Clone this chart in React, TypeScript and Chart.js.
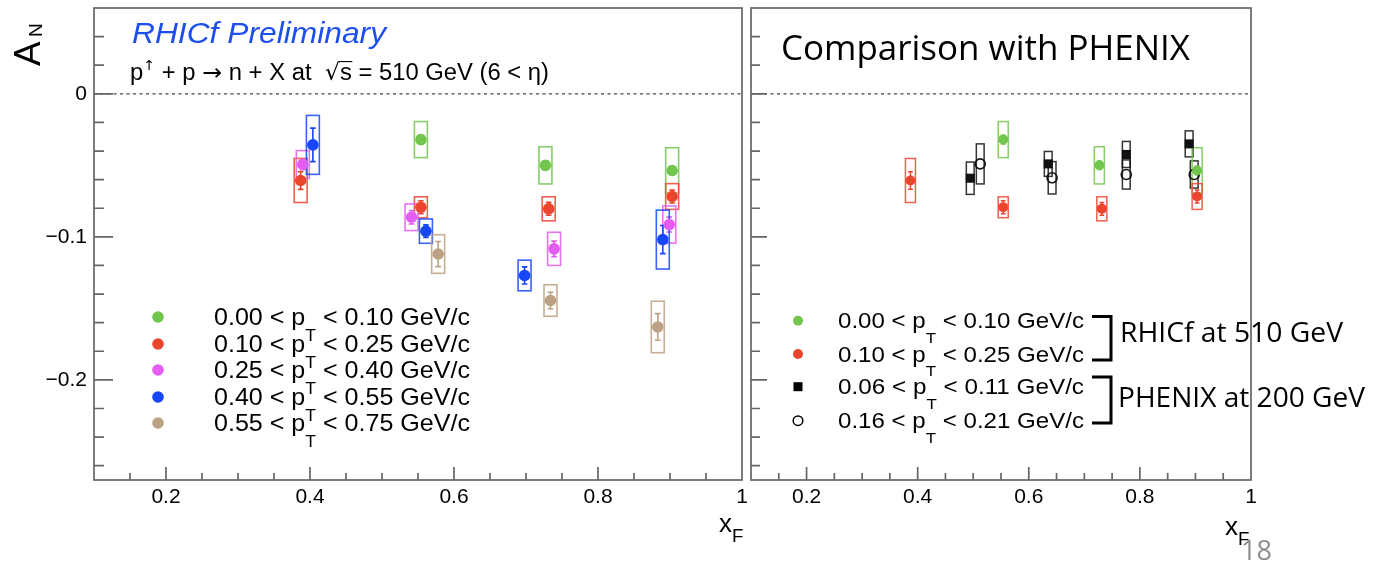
import React, { useEffect, useRef } from "react";
import { Chart, registerables } from "chart.js";

Chart.register(...registerables);

const W = 1380;
const H = 562;

// Axis ranges and labelled ticks
const X_MIN = 0.1;
const X_MAX = 1.0;
const Y_MIN = -0.27;
const Y_MAX = 0.06;
const xTickValues = [0.2, 0.4, 0.6, 0.8, 1];
const yTickValues = [-0.2, -0.1, 0];

// RHICf neutron A_N vs x_F, sqrt(s) = 510 GeV, one block per pT bin
const xPt1 = [0.554, 0.727, 0.903];
const aPt1 = [-0.032, -0.05, -0.0536];
const statPt1 = [0.003, 0.003, 0.003];
const systPt1 = [0.0126, 0.013, 0.0159];

const xPt2 = [0.387, 0.554, 0.7315, 0.903];
const aPt2 = [-0.0606, -0.0793, -0.0804, -0.0718];
const statPt2 = [0.0062, 0.0045, 0.0045, 0.0045];
const systPt2 = [0.0154, 0.0073, 0.0084, 0.009];

const xPt3 = [0.39, 0.541, 0.739, 0.899];
const aPt3 = [-0.0494, -0.0863, -0.1084, -0.0914];
const statPt3 = [0.0035, 0.0047, 0.0054, 0.0052];
const systPt3 = [0.0097, 0.0093, 0.0116, 0.013];

const xPt4 = [0.404, 0.561, 0.698, 0.89];
const aPt4 = [-0.0357, -0.096, -0.127, -0.1019];
const statPt4 = [0.0117, 0.0044, 0.006, 0.0098];
const systPt4 = [0.0206, 0.0085, 0.0107, 0.0206];

const xPt5 = [0.578, 0.734, 0.883];
const aPt5 = [-0.112, -0.1445, -0.163];
const statPt5 = [0.0088, 0.0058, 0.0093];
const systPt5 = [0.0135, 0.011, 0.018];

// PHENIX neutron A_N, sqrt(s) = 200 GeV
const xPhxLow = [0.4946, 0.635, 0.7755, 0.8886];
const aPhxLow = [-0.059, -0.049, -0.0424, -0.035];
const systPhxLow = [0.0113, 0.0087, 0.0091, 0.0091];

const xPhxHigh = [0.5126, 0.642, 0.7755, 0.8978];
const aPhxHigh = [-0.049, -0.0587, -0.0564, -0.0564];
const systPhxHigh = [0.014, 0.0113, 0.0102, 0.0095];

// pT bin edges for the legends
const ptEdges = ["0.00", "0.10", "0.25", "0.40", "0.55", "0.75"];
const phenixPtLow = ["0.06", "0.16"];
const phenixPtHigh = ["0.11", "0.21"];
const groupLabels = ["RHICf at 510 GeV", "PHENIX at 200 GeV"];

const rhicfColors = ["#72c64e", "#ec452e", "#e45cf2", "#1646f6", "#bda184"];
const FRAME = "#666666";

type Series = {
  x: number[];
  a: number[];
  stat: number[] | null;
  syst: number[];
  color: string;
  half: number;
};

const rhicf: Series[] = [
  { x: xPt1, a: aPt1, stat: statPt1, syst: systPt1 },
  { x: xPt2, a: aPt2, stat: statPt2, syst: systPt2 },
  { x: xPt3, a: aPt3, stat: statPt3, syst: systPt3 },
  { x: xPt4, a: aPt4, stat: statPt4, syst: systPt4 },
  { x: xPt5, a: aPt5, stat: statPt5, syst: systPt5 },
].map((s, i) => ({ ...s, color: rhicfColors[i], half: 0.009 }));

const phenix: Series[] = [
  { x: xPhxLow, a: aPhxLow, stat: null, syst: systPhxLow, color: "#111111", half: 0.007 },
  { x: xPhxHigh, a: aPhxHigh, stat: null, syst: systPhxHigh, color: "#111111", half: 0.007 },
];

type Seg = { t: string; k?: "sub" | "sup"; over?: boolean; fam?: string };
type TextOpt = {
  size: number;
  family: string;
  style?: string;
  color?: string;
  width?: number;
  subScale?: number;
  subDrop?: number;
  supRise?: number;
};

const fontOf = (o: TextOpt, size: number, fam?: string) =>
  `${o.style || "normal"} normal ${size}px ${fam || o.family}`;

// Draws a run of text pieces (with sub/superscripts), optionally stretched to a given width
function drawRich(ctx: CanvasRenderingContext2D, segs: Seg[], x: number, y: number, o: TextOpt) {
  const subScale = o.subScale ?? 0.7;
  const parts = segs.map((s) => {
    const sz = s.k ? o.size * subScale : o.size;
    ctx.font = fontOf(o, sz, s.fam);
    return { ...s, sz, w: ctx.measureText(s.t).width };
  });
  const natural = parts.reduce((acc, p) => acc + p.w, 0);
  const sx = o.width ? o.width / natural : 1;
  ctx.save();
  ctx.translate(x, y);
  ctx.scale(sx, 1);
  ctx.fillStyle = o.color || "#000";
  ctx.strokeStyle = o.color || "#000";
  ctx.textAlign = "left";
  ctx.textBaseline = "alphabetic";
  let cx = 0;
  for (const p of parts) {
    ctx.font = fontOf(o, p.sz, p.fam);
    const dy =
      p.k === "sub" ? o.size * (o.subDrop ?? 0.3) : p.k === "sup" ? -o.size * (o.supRise ?? 0.42) : 0;
    ctx.fillText(p.t, cx, dy);
    if (p.over) {
      ctx.beginPath();
      ctx.lineWidth = 1.1;
      ctx.moveTo(cx - 1, dy - o.size * 0.8);
      ctx.lineTo(cx + p.w + 0.5, dy - o.size * 0.8);
      ctx.stroke();
    }
    cx += p.w;
  }
  ctx.restore();
}

function ptSegs(lo: string, hi: string): Seg[] {
  return [{ t: `${lo} < p` }, { t: "T", k: "sub" }, { t: ` < ${hi} GeV/c` }];
}

// Systematic boxes and statistical bars, placed through the chart scales
function drawErrors(chart: Chart, list: Series[], lw: number, capHalf: number) {
  const { ctx } = chart;
  const xs = chart.scales.x;
  const ys = chart.scales.y;
  for (const s of list) {
    ctx.save();
    ctx.globalAlpha = 0.85;
    ctx.strokeStyle = s.color;
    ctx.lineWidth = lw;
    s.x.forEach((xv, i) => {
      const l = xs.getPixelForValue(xv - s.half);
      const r = xs.getPixelForValue(xv + s.half);
      const t = ys.getPixelForValue(s.a[i] + s.syst[i]);
      const b = ys.getPixelForValue(s.a[i] - s.syst[i]);
      ctx.strokeRect(l, t, r - l, b - t);
    });
    ctx.globalAlpha = 1;
    if (s.stat) {
      s.x.forEach((xv, i) => {
        const px = xs.getPixelForValue(xv);
        const t = ys.getPixelForValue(s.a[i] + s.stat![i]);
        const b = ys.getPixelForValue(s.a[i] - s.stat![i]);
        ctx.beginPath();
        ctx.moveTo(px, t);
        ctx.lineTo(px, b);
        ctx.moveTo(px - capHalf, t);
        ctx.lineTo(px + capHalf, t);
        ctx.moveTo(px - capHalf, b);
        ctx.lineTo(px + capHalf, b);
        ctx.stroke();
      });
    }
    ctx.restore();
  }
}

// Frame with inward ROOT-style tick marks
function drawFrame(chart: Chart, yMajorLen: number, yMinorLen: number) {
  const { ctx, chartArea: ca } = chart;
  const xs = chart.scales.x;
  const ys = chart.scales.y;
  ctx.save();
  ctx.strokeStyle = FRAME;
  ctx.lineWidth = 1.7;
  ctx.strokeRect(ca.left, ca.top, ca.right - ca.left, ca.bottom - ca.top);
  ctx.beginPath();
  for (let k = 3; k <= 19; k++) {
    const px = xs.getPixelForValue(k * 0.05);
    const len = k % 4 === 0 ? 13 : 7;
    ctx.moveTo(px, ca.bottom);
    ctx.lineTo(px, ca.bottom - len);
  }
  for (let k = -13; k <= 2; k++) {
    const py = ys.getPixelForValue(k * 0.02);
    const len = k % 5 === 0 ? yMajorLen : yMinorLen;
    ctx.moveTo(ca.left, py);
    ctx.lineTo(ca.left + len, py);
  }
  ctx.stroke();
  ctx.restore();
}

function dot(ctx: CanvasRenderingContext2D, x: number, y: number, r: number, color: string) {
  ctx.beginPath();
  ctx.arc(x, y, r, 0, Math.PI * 2);
  ctx.fillStyle = color;
  ctx.fill();
}

function bracket(ctx: CanvasRenderingContext2D, x0: number, x1: number, y0: number, y1: number) {
  ctx.save();
  ctx.beginPath();
  ctx.moveTo(x0, y0);
  ctx.lineTo(x1, y0);
  ctx.lineTo(x1, y1);
  ctx.lineTo(x0, y1);
  ctx.lineWidth = 3;
  ctx.strokeStyle = "#000";
  ctx.lineJoin = "miter";
  ctx.stroke();
  ctx.restore();
}

const ROOT_FONT = "'Liberation Sans', Arial, sans-serif";
const SYMBOL_FONT = "'DejaVu Sans', sans-serif";
const SLIDE_FONT = "'Open Sans', 'Noto Sans', sans-serif";

function scalesFor(showYLabels: boolean) {
  return {
    x: {
      type: "linear",
      min: X_MIN,
      max: X_MAX,
      grid: { display: false, drawTicks: false },
      border: { display: false },
      afterBuildTicks: (s: any) => {
        s.ticks = xTickValues.map((v) => ({ value: v }));
      },
      afterFit: (s: any) => {
        s.height = 40;
        s.paddingLeft = 0;
        s.paddingRight = 0;
      },
      ticks: {
        padding: 5,
        autoSkip: false,
        maxRotation: 0,
        color: "#000",
        font: { family: ROOT_FONT, size: 21 },
        callback: (v: any) => (Number(v) === 1 ? "1" : Number(v).toFixed(1)),
      },
    },
    y: {
      type: "linear",
      min: Y_MIN,
      max: Y_MAX,
      grid: { display: false, drawTicks: false },
      border: { display: false },
      afterBuildTicks: (s: any) => {
        s.ticks = yTickValues.map((v) => ({ value: v }));
      },
      afterFit: (s: any) => {
        s.width = 50;
        s.paddingTop = 0;
        s.paddingBottom = 0;
      },
      ticks: {
        display: showYLabels,
        padding: 7,
        color: "#000",
        font: { family: ROOT_FONT, size: 21 },
        callback: (v: any) => {
          const n = Number(v);
          return Math.abs(n) < 1e-9 ? "0" : "\u2212" + Math.abs(n).toFixed(1);
        },
      },
    },
  };
}

function zeroLine() {
  return {
    type: "line",
    data: [
      { x: X_MIN, y: 0 },
      { x: X_MAX, y: 0 },
    ],
    showLine: true,
    borderColor: "#444444",
    borderWidth: 1.3,
    borderDash: [3, 3.5],
    pointRadius: 0,
  };
}

function pointSet(s: Series, r: number, style = "circle", fill = true) {
  return {
    type: "scatter",
    data: s.x.map((xv, i) => ({ x: xv, y: s.a[i] })),
    pointStyle: style,
    pointRadius: r,
    pointBackgroundColor: fill ? s.color : "rgba(0,0,0,0)",
    pointBorderColor: s.color,
    pointBorderWidth: fill ? 0 : 1.6,
    showLine: false,
  };
}

function baseOptions(padLeft: number, padRight: number, showY: boolean) {
  return {
    responsive: false,
    maintainAspectRatio: false,
    devicePixelRatio: 1,
    animation: false,
    events: [],
    layout: { padding: { left: padLeft, right: padRight, top: 8, bottom: 42 } },
    plugins: { legend: { display: false }, tooltip: { enabled: false } },
    scales: scalesFor(showY),
  };
}

function leftConfig(): any {
  const plugin = {
    id: "rhicfPanel",
    beforeDatasetsDraw(chart: Chart) {
      drawErrors(chart, rhicf, 1.6, 2.8);
    },
    afterDatasetsDraw(chart: Chart) {
      const ctx = chart.ctx;
      drawFrame(chart, 19, 10);
      drawRich(ctx, [{ t: "RHICf Preliminary" }], 132, 43, {
        size: 29,
        family: ROOT_FONT,
        style: "italic",
        color: "#1c4ef0",
        width: 254,
      });
      drawRich(
        ctx,
        [
          { t: "p" },
          { t: "\u2191", k: "sup", fam: SYMBOL_FONT },
          { t: " + p " },
          { t: "\u2192", fam: SYMBOL_FONT },
          { t: " n + X at  " },
          { t: "\u221A", fam: SYMBOL_FONT },
          { t: "s", over: true },
          { t: " = 510 GeV (6 < \u03B7)" },
        ],
        130,
        80,
        { size: 23, family: ROOT_FONT, width: 419, supRise: 0.42, subScale: 0.6 }
      );
      const rows = [317, 344, 370, 397, 423];
      rows.forEach((ry, i) => {
        dot(ctx, 158, ry, 5.8, rhicfColors[i]);
        drawRich(ctx, ptSegs(ptEdges[i], ptEdges[i + 1]), 214, ry + 7.5, {
          size: 24,
          family: ROOT_FONT,
          width: 256,
          subDrop: 0.68,
        });
      });
      // A_N axis title, reading upwards
      ctx.save();
      ctx.translate(40, 66);
      ctx.rotate(-Math.PI / 2);
      ctx.fillStyle = "#000";
      ctx.font = `37px ${ROOT_FONT}`;
      ctx.fillText("A", 0, 0);
      ctx.font = `19px ${ROOT_FONT}`;
      ctx.fillText("N", 29, 2);
      ctx.restore();
      drawRich(ctx, [{ t: "x" }, { t: "F", k: "sub" }], 719, 532, {
        size: 26,
        family: ROOT_FONT,
        subScale: 0.72,
        subDrop: 0.4,
      });
    },
  };
  return {
    type: "scatter",
    data: { datasets: [...rhicf.map((s) => pointSet(s, 5.8)), zeroLine()] },
    options: baseOptions(44, W - 742, true),
    plugins: [plugin],
  };
}

function rightConfig(): any {
  const shown = rhicf.slice(0, 2);
  const plugin = {
    id: "comparisonPanel",
    beforeDatasetsDraw(chart: Chart) {
      drawErrors(chart, phenix, 1.5, 2);
      drawErrors(chart, shown, 1.5, 2.4);
    },
    afterDatasetsDraw(chart: Chart) {
      const ctx = chart.ctx;
      drawRich(ctx, [{ t: "Comparison with PHENIX" }], 781, 60, {
        size: 35,
        family: SLIDE_FONT,
        width: 409,
      });
      const rows = [320.7, 354, 386.7, 420.7];
      rows.forEach((ry, i) => {
        if (i < 2) {
          dot(ctx, 798, ry, 5, rhicfColors[i]);
        } else if (i === 2) {
          ctx.fillStyle = "#000";
          ctx.fillRect(793.5, ry - 4.5, 9, 9);
        } else {
          ctx.beginPath();
          ctx.arc(798, ry, 4.8, 0, Math.PI * 2);
          ctx.lineWidth = 1.5;
          ctx.strokeStyle = "#000";
          ctx.stroke();
        }
        const segs = i < 2 ? ptSegs(ptEdges[i], ptEdges[i + 1]) : ptSegs(phenixPtLow[i - 2], phenixPtHigh[i - 2]);
        drawRich(ctx, segs, 838, ry + 7.5, {
          size: 22,
          family: ROOT_FONT,
          width: 246,
          subDrop: 0.68,
        });
      });
      bracket(ctx, 1092, 1111, 316.5, 360);
      bracket(ctx, 1092, 1111, 377, 423);
      drawRich(ctx, [{ t: groupLabels[0] }], 1120, 341.5, { size: 27, family: SLIDE_FONT, width: 223 });
      drawRich(ctx, [{ t: groupLabels[1] }], 1118, 406.5, { size: 27, family: SLIDE_FONT, width: 247 });
      drawFrame(chart, 16, 9);
      drawRich(ctx, [{ t: "x" }, { t: "F", k: "sub" }], 1225, 535, {
        size: 26,
        family: ROOT_FONT,
        subScale: 0.72,
        subDrop: 0.4,
      });
      drawRich(ctx, [{ t: "18" }], 1241, 560, { size: 28, family: SLIDE_FONT, color: "#8e8e8e", width: 31 });
    },
  };
  return {
    type: "scatter",
    data: {
      datasets: [
        ...shown.map((s) => pointSet(s, 5)),
        pointSet(phenix[0], 6.4, "rect"),
        pointSet(phenix[1], 5, "circle", false),
        zeroLine(),
      ],
    },
    options: baseOptions(751 - 50, W - 1251, false),
    plugins: [plugin],
  };
}

export default function App() {
  const leftRef = useRef<HTMLCanvasElement>(null);
  const rightRef = useRef<HTMLCanvasElement>(null);

  useEffect(() => {
    document.body.style.margin = "0";
    const left = new Chart(leftRef.current!, leftConfig());
    const right = new Chart(rightRef.current!, rightConfig());
    return () => {
      left.destroy();
      right.destroy();
    };
  }, []);

  return (
    <div style={{ position: "relative", width: W, height: H, overflow: "hidden", background: "#fff" }}>
      <canvas ref={leftRef} width={W} height={H} style={{ position: "absolute", left: 0, top: 0 }} />
      <canvas ref={rightRef} width={W} height={H} style={{ position: "absolute", left: 0, top: 0 }} />
    </div>
  );
}
